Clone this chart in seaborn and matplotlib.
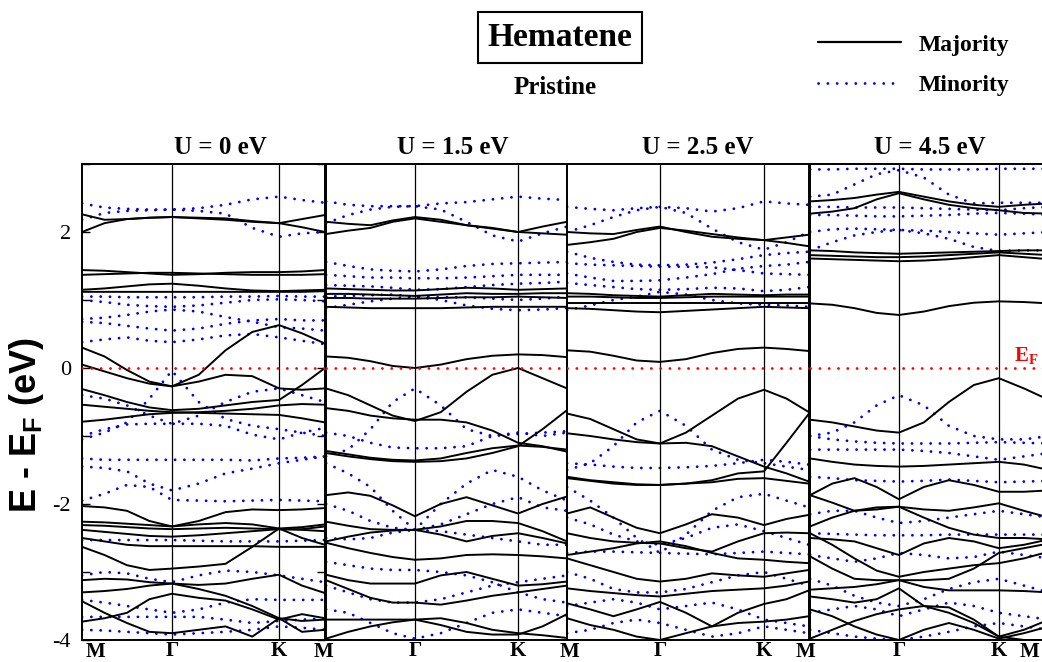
import numpy as np
import pandas as pd
import matplotlib
matplotlib.use("Agg")
import matplotlib.pyplot as plt
from matplotlib.lines import Line2D
import seaborn as sns

# ---------------- data (energies in eV at path samples M ... G ... K ... M) ----------------
panel_titles = ["U = 0 eV", "U = 1.5 eV", "U = 2.5 eV", "U = 4.5 eV"]
kpoint_labels = ["M", "Γ", "K", "M"]
# fractional positions of Γ and K along each panel's path
gamma_frac = [0.370, 0.369, 0.384, 0.372]
k_frac = [0.811, 0.797, 0.814, 0.790]

maj_U0 = [
    [2.00, 2.13, 2.19, 2.21, 2.22, 2.20, 2.18, 2.15, 2.13, 2.19, 2.25],
    [2.26, 2.18, 2.19, 2.21, 2.22, 2.21, 2.20, 2.16, 2.13, 2.07, 2.00],
    [1.44, 1.43, 1.41, 1.39, 1.37, 1.38, 1.40, 1.41, 1.41, 1.42, 1.44],
    [1.37, 1.38, 1.39, 1.40, 1.40, 1.39, 1.38, 1.37, 1.37, 1.37, 1.38],
    [1.15, 1.17, 1.20, 1.23, 1.24, 1.21, 1.17, 1.14, 1.13, 1.14, 1.15],
    [1.12, 1.12, 1.12, 1.12, 1.12, 1.12, 1.12, 1.12, 1.12, 1.12, 1.13],
    [0.30, 0.17, -0.03, -0.20, -0.27, -0.10, 0.26, 0.53, 0.63, 0.51, 0.36],
    [0.05, -0.05, -0.15, -0.23, -0.27, -0.20, -0.10, -0.12, -0.30, -0.32, -0.30],
    [-0.31, -0.40, -0.50, -0.58, -0.62, -0.60, -0.55, -0.50, -0.47, -0.25, 0.00],
    [-0.54, -0.57, -0.60, -0.63, -0.65, -0.66, -0.67, -0.68, -0.69, -0.74, -0.80],
    [-0.79, -0.76, -0.72, -0.68, -0.66, -0.65, -0.63, -0.60, -0.55, -0.53, -0.54],
    [-2.03, -2.05, -2.10, -2.25, -2.33, -2.25, -2.12, -2.08, -2.09, -2.08, -2.06],
    [-2.26, -2.27, -2.29, -2.31, -2.33, -2.30, -2.28, -2.30, -2.36, -2.34, -2.30],
    [-2.31, -2.32, -2.34, -2.36, -2.37, -2.36, -2.35, -2.36, -2.37, -2.37, -2.33],
    [-2.38, -2.41, -2.44, -2.47, -2.48, -2.46, -2.43, -2.40, -2.37, -2.38, -2.40],
    [-2.50, -2.55, -2.60, -2.62, -2.62, -2.62, -2.62, -2.62, -2.63, -2.63, -2.63],
    [-2.63, -2.75, -2.90, -2.97, -2.95, -2.92, -2.88, -2.63, -2.36, -2.50, -2.60],
    [-3.12, -3.10, -3.11, -3.15, -3.17, -3.19, -3.17, -3.10, -3.04, -3.20, -3.31],
    [-3.30, -3.28, -3.25, -3.20, -3.17, -3.25, -3.35, -3.50, -3.68, -3.72, -3.70],
    [-3.43, -3.60, -3.75, -3.88, -3.90, -3.85, -3.80, -3.95, -3.68, -3.88, -3.85],
    [-3.73, -3.68, -3.60, -3.40, -3.32, -3.38, -3.42, -3.55, -3.70, -3.62, -3.68],
]
min_U0 = [
    [2.42, 2.36, 2.34, 2.33, 2.33, 2.35, 2.40, 2.48, 2.52, 2.47, 2.43],
    [2.18, 2.28, 2.31, 2.32, 2.33, 2.31, 2.27, 2.06, 1.93, 1.98, 2.00],
    [1.05, 1.05, 1.04, 1.04, 1.04, 1.04, 1.05, 1.05, 1.06, 1.05, 1.05],
    [1.00, 0.97, 0.93, 0.91, 0.90, 0.92, 0.96, 1.00, 1.01, 1.00, 0.98],
    [0.72, 0.74, 0.78, 0.83, 0.86, 0.83, 0.75, 0.68, 0.60, 0.58, 0.55],
    [0.68, 0.66, 0.62, 0.58, 0.55, 0.58, 0.65, 0.70, 0.72, 0.70, 0.70],
    [0.38, 0.42, 0.45, 0.40, 0.38, 0.42, 0.48, 0.50, 0.45, 0.40, 0.35],
    [-1.05, -0.95, -0.80, -0.45, -0.04, -0.50, -0.75, -0.85, -0.90, -0.95, -1.00],
    [-0.40, -0.45, -0.55, -0.70, -0.82, -0.70, -0.50, -0.35, -0.30, -0.40, -0.50],
    [-1.00, -0.90, -0.83, -0.82, -0.82, -0.82, -0.85, -0.98, -1.05, -0.95, -0.88],
    [-1.33, -1.35, -1.35, -1.35, -1.35, -1.35, -1.35, -1.36, -1.33, -1.32, -1.30],
    [-1.45, -1.47, -1.52, -1.70, -1.80, -1.70, -1.55, -1.48, -1.40, -1.35, -1.30],
    [-1.95, -1.85, -1.72, -1.75, -1.94, -1.95, -1.96, -1.95, -1.94, -1.95, -1.96],
    [-2.53, -2.53, -2.53, -2.53, -2.53, -2.54, -2.55, -2.55, -2.55, -2.54, -2.53],
    [-3.05, -3.00, -3.02, -3.10, -3.15, -3.05, -2.98, -3.00, -3.05, -3.10, -3.15],
    [-3.41, -3.45, -3.50, -3.55, -3.60, -3.55, -3.45, -3.40, -3.41, -3.41, -3.41],
    [-3.66, -3.66, -3.66, -3.66, -3.66, -3.66, -3.70, -3.75, -3.72, -3.70, -3.68],
    [-3.85, -3.86, -3.88, -3.90, -3.92, -3.90, -3.88, -3.85, -3.80, -3.82, -3.85],
]

maj_U15 = [
    [2.15, 2.12, 2.10, 2.17, 2.22, 2.18, 2.10, 2.05, 2.00, 2.08, 2.15],
    [1.97, 2.02, 2.06, 2.15, 2.20, 2.15, 2.10, 2.06, 2.00, 1.98, 1.96],
    [1.17, 1.16, 1.15, 1.14, 1.14, 1.16, 1.18, 1.17, 1.15, 1.16, 1.17],
    [1.09, 1.09, 1.08, 1.07, 1.06, 1.08, 1.10, 1.09, 1.09, 1.10, 1.10],
    [1.03, 1.03, 1.02, 1.02, 1.02, 1.03, 1.04, 1.04, 1.05, 1.04, 1.03],
    [0.90, 0.89, 0.88, 0.88, 0.88, 0.88, 0.89, 0.90, 0.90, 0.90, 0.90],
    [0.17, 0.15, 0.10, 0.03, 0.00, 0.05, 0.13, 0.18, 0.20, 0.19, 0.16],
    [-0.30, -0.40, -0.55, -0.70, -0.78, -0.65, -0.35, -0.10, 0.00, -0.15, -0.30],
    [-0.59, -0.63, -0.70, -0.74, -0.76, -0.76, -0.80, -0.92, -1.10, -1.15, -1.23],
    [-1.25, -1.30, -1.34, -1.37, -1.38, -1.37, -1.33, -1.25, -1.15, -0.90, -0.62],
    [-1.22, -1.27, -1.32, -1.35, -1.36, -1.33, -1.25, -1.18, -1.14, -1.16, -1.20],
    [-1.87, -1.83, -1.88, -2.02, -2.18, -2.00, -1.90, -2.02, -2.14, -2.00, -1.89],
    [-2.26, -2.32, -2.37, -2.38, -2.38, -2.33, -2.25, -2.25, -2.28, -2.40, -2.55],
    [-2.55, -2.48, -2.42, -2.39, -2.38, -2.45, -2.55, -2.47, -2.43, -2.50, -2.58],
    [-2.57, -2.65, -2.72, -2.78, -2.82, -2.80, -2.75, -2.74, -2.75, -2.77, -2.80],
    [-3.04, -3.12, -3.17, -3.17, -3.17, -3.05, -3.00, -3.10, -3.20, -3.18, -3.14],
    [-3.12, -3.25, -3.38, -3.45, -3.45, -3.48, -3.42, -3.35, -3.30, -3.25, -3.20],
    [-3.70, -3.70, -3.70, -3.70, -3.70, -3.68, -3.75, -3.85, -3.90, -3.93, -3.97],
    [-3.98, -3.88, -3.80, -3.74, -3.70, -3.78, -3.88, -3.92, -3.92, -3.80, -3.62],
]
min_U15 = [
    [2.45, 2.40, 2.38, 2.38, 2.38, 2.42, 2.44, 2.48, 2.52, 2.49, 2.47],
    [2.13, 2.25, 2.33, 2.37, 2.38, 2.33, 2.15, 1.95, 1.86, 1.98, 2.08],
    [1.56, 1.50, 1.45, 1.43, 1.42, 1.45, 1.50, 1.53, 1.54, 1.55, 1.56],
    [1.37, 1.35, 1.33, 1.33, 1.32, 1.32, 1.33, 1.35, 1.37, 1.37, 1.37],
    [1.22, 1.21, 1.20, 1.18, 1.15, 1.16, 1.19, 1.22, 1.24, 1.25, 1.27],
    [1.05, 1.06, 1.07, 1.08, 1.05, 1.04, 1.04, 1.02, 1.00, 1.02, 1.05],
    [0.88, 0.93, 0.98, 1.02, 1.05, 1.00, 0.92, 0.87, 0.85, 0.86, 0.88],
    [-1.30, -1.20, -0.90, -0.50, -0.30, -0.55, -0.90, -1.00, -0.95, -1.00, -0.95],
    [-0.95, -1.00, -1.10, -1.17, -1.18, -1.18, -1.15, -1.00, -0.97, -0.95, -0.93],
    [-1.40, -1.55, -1.75, -2.10, -2.38, -2.00, -1.70, -1.50, -1.60, -1.80, -1.95],
    [-2.00, -2.10, -2.25, -2.35, -2.38, -2.30, -2.15, -2.00, -1.90, -2.05, -2.10],
    [-2.50, -2.52, -2.50, -2.42, -2.38, -2.40, -2.45, -2.50, -2.55, -2.60, -2.60],
    [-2.85, -2.90, -2.95, -2.97, -2.97, -3.00, -3.05, -3.15, -3.30, -3.40, -3.45],
    [-3.20, -3.30, -3.40, -3.45, -3.45, -3.40, -3.30, -3.20, -3.15, -3.10, -3.05],
    [-3.55, -3.60, -3.75, -3.90, -3.98, -3.90, -3.75, -3.60, -3.55, -3.60, -3.65],
]

maj_U25 = [
    [2.00, 1.98, 1.97, 2.03, 2.08, 2.00, 1.93, 1.90, 1.88, 1.92, 1.96],
    [1.81, 1.85, 1.90, 2.00, 2.06, 2.02, 1.97, 1.92, 1.88, 1.84, 1.79],
    [1.10, 1.09, 1.07, 1.06, 1.05, 1.07, 1.09, 1.08, 1.07, 1.08, 1.08],
    [1.05, 1.05, 1.04, 1.03, 1.03, 1.04, 1.05, 1.05, 1.05, 1.05, 1.05],
    [0.95, 0.95, 0.95, 0.95, 0.95, 0.95, 0.95, 0.95, 0.95, 0.95, 0.95],
    [0.88, 0.87, 0.85, 0.83, 0.82, 0.84, 0.86, 0.88, 0.90, 0.89, 0.88],
    [0.26, 0.24, 0.18, 0.11, 0.09, 0.13, 0.22, 0.28, 0.30, 0.28, 0.25],
    [-0.67, -0.75, -0.90, -1.05, -1.11, -0.95, -0.70, -0.45, -0.32, -0.45, -0.65],
    [-0.96, -1.00, -1.05, -1.09, -1.11, -1.10, -1.15, -1.30, -1.45, -1.55, -1.67],
    [-1.60, -1.65, -1.68, -1.71, -1.72, -1.70, -1.65, -1.55, -1.52, -1.10, -0.67],
    [-1.62, -1.66, -1.70, -1.72, -1.72, -1.70, -1.68, -1.63, -1.62, -1.66, -1.70],
    [-2.14, -2.05, -2.20, -2.35, -2.43, -2.30, -2.15, -2.20, -2.31, -2.22, -2.16],
    [-2.43, -2.50, -2.55, -2.57, -2.58, -2.65, -2.70, -2.55, -2.43, -2.42, -2.43],
    [-2.75, -2.70, -2.65, -2.58, -2.55, -2.62, -2.72, -2.80, -2.82, -2.85, -2.87],
    [-2.80, -2.90, -3.00, -3.10, -3.14, -3.10, -3.02, -3.05, -3.07, -3.02, -2.97],
    [-3.24, -3.28, -3.31, -3.34, -3.36, -3.32, -3.28, -3.26, -3.24, -3.20, -3.14],
    [-3.46, -3.55, -3.65, -3.55, -3.44, -3.60, -3.80, -3.75, -3.73, -3.70, -3.65],
    [-3.68, -3.78, -3.85, -3.95, -4.00, -3.90, -3.80, -3.60, -3.47, -3.40, -3.27],
]
min_U25 = [
    [2.37, 2.34, 2.32, 2.35, 2.37, 2.35, 2.30, 2.35, 2.45, 2.42, 2.40],
    [2.00, 2.10, 2.22, 2.32, 2.37, 2.28, 2.05, 1.85, 1.74, 1.85, 2.00],
    [1.71, 1.62, 1.56, 1.52, 1.51, 1.52, 1.55, 1.60, 1.66, 1.69, 1.71],
    [1.54, 1.52, 1.51, 1.50, 1.49, 1.49, 1.48, 1.44, 1.39, 1.38, 1.37],
    [1.39, 1.33, 1.28, 1.28, 1.29, 1.33, 1.38, 1.46, 1.50, 1.52, 1.56],
    [1.25, 1.22, 1.19, 1.16, 1.15, 1.16, 1.18, 1.17, 1.13, 1.15, 1.19],
    [0.85, 0.92, 1.00, 1.05, 1.12, 1.08, 1.00, 0.95, 0.93, 0.92, 0.90],
    [-1.50, -1.40, -1.15, -0.80, -0.63, -0.85, -1.20, -1.35, -1.40, -1.45, -1.50],
    [-1.40, -1.42, -1.45, -1.47, -1.47, -1.46, -1.44, -1.40, -1.35, -1.38, -1.42],
    [-1.75, -1.95, -2.20, -2.50, -2.72, -2.45, -2.10, -1.90, -1.85, -1.95, -2.05],
    [-2.72, -2.70, -2.70, -2.71, -2.72, -2.73, -2.74, -2.72, -2.70, -2.72, -2.74],
    [-2.20, -2.30, -2.45, -2.55, -2.60, -2.50, -2.35, -2.30, -2.40, -2.50, -2.60],
    [-3.00, -3.10, -3.25, -3.30, -3.30, -3.25, -3.15, -3.05, -3.00, -3.10, -3.20],
    [-3.50, -3.45, -3.40, -3.45, -3.55, -3.50, -3.45, -3.55, -3.70, -3.75, -3.80],
    [-3.90, -3.85, -3.75, -3.70, -3.75, -3.85, -3.95, -3.90, -3.80, -3.85, -3.90],
]

maj_U45 = [
    [2.45, 2.47, 2.50, 2.55, 2.59, 2.52, 2.45, 2.40, 2.37, 2.40, 2.42],
    [2.27, 2.30, 2.35, 2.48, 2.57, 2.48, 2.40, 2.35, 2.32, 2.28, 2.27],
    [1.73, 1.72, 1.70, 1.69, 1.68, 1.69, 1.70, 1.71, 1.72, 1.73, 1.73],
    [1.66, 1.65, 1.64, 1.63, 1.63, 1.64, 1.66, 1.68, 1.70, 1.68, 1.66],
    [1.61, 1.60, 1.59, 1.58, 1.57, 1.58, 1.60, 1.63, 1.66, 1.63, 1.60],
    [0.95, 0.93, 0.88, 0.81, 0.78, 0.83, 0.91, 0.96, 0.98, 0.97, 0.95],
    [-0.76, -0.80, -0.86, -0.92, -0.95, -0.80, -0.50, -0.25, -0.15, -0.30, -0.47],
    [-1.33, -1.38, -1.42, -1.44, -1.45, -1.44, -1.42, -1.40, -1.38, -1.42, -1.50],
    [-1.87, -1.70, -1.62, -1.75, -1.93, -1.75, -1.65, -1.72, -1.82, -1.82, -1.80],
    [-1.87, -1.98, -2.10, -2.08, -2.04, -2.08, -2.10, -2.05, -1.99, -2.10, -2.20],
    [-2.33, -2.20, -2.10, -2.05, -2.04, -2.20, -2.35, -2.45, -2.50, -2.50, -2.52],
    [-2.50, -2.52, -2.55, -2.65, -2.75, -2.58, -2.50, -2.55, -2.65, -2.60, -2.52],
    [-2.43, -2.60, -2.80, -2.98, -3.07, -3.00, -2.95, -2.90, -2.87, -2.80, -2.70],
    [-2.77, -2.95, -3.10, -3.12, -3.12, -3.12, -3.10, -2.95, -2.72, -2.65, -2.58],
    [-3.26, -3.24, -3.22, -3.18, -3.12, -3.22, -3.27, -3.27, -3.27, -3.28, -3.30],
    [-3.36, -3.40, -3.45, -3.40, -3.24, -3.50, -3.60, -3.75, -3.95, -3.85, -3.70],
    [-3.55, -3.65, -3.80, -3.92, -4.00, -3.85, -3.75, -3.85, -3.98, -3.90, -3.80],
    [-3.98, -3.85, -3.72, -3.62, -3.55, -3.50, -3.52, -3.70, -3.95, -4.00, -4.00],
]
min_U45 = [
    [2.92, 2.92, 2.93, 2.93, 2.93, 2.92, 2.92, 2.92, 2.93, 2.93, 2.93],
    [2.52, 2.55, 2.70, 2.85, 2.91, 2.80, 2.55, 2.42, 2.43, 2.43, 2.43],
    [2.37, 2.37, 2.36, 2.36, 2.36, 2.35, 2.34, 2.33, 2.32, 2.35, 2.37],
    [2.25, 2.25, 2.24, 2.23, 2.23, 2.24, 2.25, 2.27, 2.28, 2.27, 2.25],
    [2.00, 2.04, 2.05, 2.04, 2.03, 2.02, 2.00, 1.98, 1.96, 1.98, 2.00],
    [1.73, 1.85, 1.95, 2.00, 2.03, 1.98, 1.90, 1.78, 1.72, 1.73, 1.73],
    [-1.00, -0.95, -0.80, -0.55, -0.40, -0.55, -0.85, -1.00, -1.05, -1.05, -1.00],
    [-1.00, -1.05, -1.08, -1.10, -1.11, -1.11, -1.11, -1.10, -1.09, -1.10, -1.11],
    [-1.20, -1.20, -1.20, -1.20, -1.20, -1.22, -1.25, -1.30, -1.35, -1.30, -1.25],
    [-1.60, -1.62, -1.65, -1.66, -1.67, -1.66, -1.64, -1.66, -1.68, -1.67, -1.66],
    [-2.15, -2.10, -2.10, -2.20, -2.28, -2.25, -2.20, -2.15, -2.10, -2.15, -2.20],
    [-2.43, -2.44, -2.45, -2.46, -2.46, -2.46, -2.45, -2.45, -2.45, -2.45, -2.45],
    [-2.75, -2.80, -2.85, -2.80, -2.72, -2.75, -2.80, -2.78, -2.70, -2.75, -2.80],
    [-3.10, -3.20, -3.35, -3.45, -3.50, -3.40, -3.25, -3.15, -3.10, -3.20, -3.30],
    [-3.60, -3.55, -3.50, -3.55, -3.65, -3.55, -3.45, -3.50, -3.60, -3.65, -3.70],
    [-3.85, -3.90, -3.95, -3.98, -4.00, -3.95, -3.88, -3.80, -3.75, -3.80, -3.85],
]

majority = [maj_U0, maj_U15, maj_U25, maj_U45]
minority = [min_U0, min_U15, min_U25, min_U45]

# ---------------- style ----------------
sns.set_theme(style="white")
plt.rcParams["font.family"] = ["Liberation Serif", "DejaVu Serif"]
plt.rcParams["mathtext.fontset"] = "custom"
plt.rcParams["mathtext.bf"] = "Liberation Serif:bold"
plt.rcParams["mathtext.sf"] = "Liberation Sans:bold"
plt.rcParams["mathtext.rm"] = "Liberation Serif"
for key in ("text.color", "axes.labelcolor", "xtick.color", "ytick.color", "axes.edgecolor"):
    plt.rcParams[key] = "black"

W, H = 1042, 662
fig = plt.figure(figsize=(W / 100, H / 100), dpi=100)

panel_px = [(82, 325), (326, 567), (567, 809), (810, 1049)]
top_px, bot_px = 164, 640

MAJ_COLOR = "black"
MIN_COLOR = "#0000ee"
DOTS = (0, (0.05, 3.3))


def sample_k(g, kk):
    seg1 = [g * t for t in (0, 0.25, 0.5, 0.75, 1.0)]
    seg2 = [g + (kk - g) * t for t in (0.25, 0.5, 0.75, 1.0)]
    seg3 = [kk + (1 - kk) * t for t in (0.5, 1.0)]
    return seg1 + seg2 + seg3


def to_frame(bands, kx):
    rows = []
    for b, vals in enumerate(bands):
        for x, e in zip(kx, vals):
            rows.append({"k": x, "E": e, "band": b})
    return pd.DataFrame(rows)


axes = []
for i in range(4):
    x0, x1 = panel_px[i]
    ax = fig.add_axes([x0 / W, 1 - bot_px / H, (x1 - x0) / W, (bot_px - top_px) / H])
    axes.append(ax)
    g, kk = gamma_frac[i], k_frac[i]
    kx = sample_k(g, kk)

    dmin = to_frame(minority[i], kx)
    dmaj = to_frame(majority[i], kx)
    sns.lineplot(data=dmin, x="k", y="E", units="band", estimator=None, sort=False,
                 color=MIN_COLOR, lw=2.0, linestyle=DOTS,
                 dash_capstyle="round", legend=False, ax=ax)
    sns.lineplot(data=dmaj, x="k", y="E", units="band", estimator=None, sort=False,
                 color=MAJ_COLOR, lw=1.4, legend=False, ax=ax)

    ax.axhline(0, color="red", lw=2.0, linestyle=DOTS, dash_capstyle="round", zorder=5)
    ax.axvline(g, color="black", lw=0.9, zorder=4)
    ax.axvline(kk, color="black", lw=0.9, zorder=4)

    ax.set_xlim(0, 1)
    ax.set_ylim(-4, 3)
    ax.set_xlabel("")
    ax.set_ylabel("")
    ax.set_xticks([g, kk])
    ax.set_xticklabels(kpoint_labels[1:3], fontweight="bold", fontsize=15)
    ax.tick_params(axis="x", length=0, pad=1)
    for s in ax.spines.values():
        s.set_linewidth(1.4)
        s.set_color("black")
    if i == 0:
        ax.set_yticks(range(-4, 4))
        ax.set_yticklabels(["-4", "", "-2", "", "0", "", "2", ""], fontsize=16)
        ax.tick_params(axis="y", which="both", direction="in", left=True, right=True,
                       length=6, width=1.0, pad=8)
    else:
        ax.set_yticks([])

    fig.text((x0 + x1) / 2 / W + [0.016, 0.006, 0.009, 0.0][i], 1 - 147 / H,
             panel_titles[i], ha="center", va="center", fontsize=18, fontweight="bold")

# M labels at path ends
m_x = [96, 323, 570, 806, 1030]
for mx in m_x:
    fig.text(mx / W, 1 - 652 / H, kpoint_labels[0], ha="center", va="center",
             fontsize=15, fontweight="bold")

# E_F label
fig.text(1026 / W, 1 - 356 / H, r"E$_\mathbf{F}$", color="red", ha="center",
         va="center", fontsize=15, fontweight="bold")

# y label
fig.text(27 / W, 1 - 425 / H, r"E - E$_\mathsf{F}$ (eV)", rotation=90,
         ha="center", va="center", fontsize=26, fontweight="bold",
         family="Liberation Sans")

# title block
fig.text(560 / W, 1 - 37 / H, "Hematene", ha="center", va="center", fontsize=24,
         fontweight="bold",
         bbox=dict(boxstyle="square,pad=0.3", fc="white", ec="black", lw=1.5))
fig.text(555 / W, 1 - 87 / H, "Pristine", ha="center", va="center", fontsize=18,
         fontweight="bold")

# legend
handles = [Line2D([], [], color=MAJ_COLOR, lw=1.6),
           Line2D([], [], color=MIN_COLOR, lw=2.0, linestyle=DOTS,
                  dash_capstyle="round")]
fig.legend(handles=handles, labels=["Majority", "Minority"], loc="upper left",
           bbox_to_anchor=(818 / W, 1 - 34 / H), frameon=False, borderpad=0,
           borderaxespad=0, handlelength=3.5, handletextpad=0.75, labelspacing=0.8,
           prop={"family": "Liberation Serif", "weight": "bold", "size": 17})

fig.savefig("out.png", dpi=100)
